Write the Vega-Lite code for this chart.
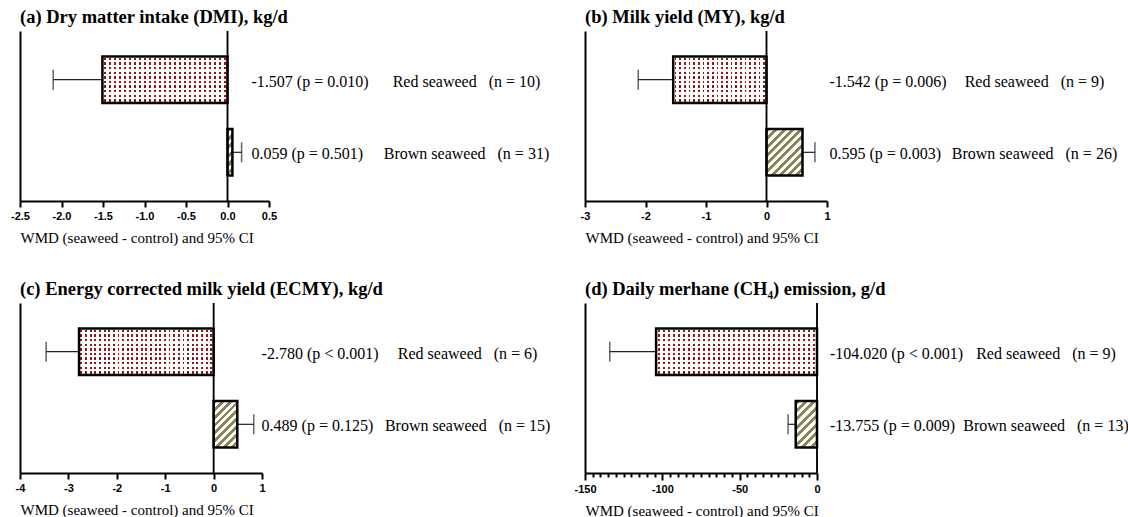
{
  "$schema": "https://vega.github.io/schema/vega-lite/v6.json",
  "background": "white",
  "padding": {"left": 10, "top": 7, "right": 0, "bottom": 0},
  "bounds": "flush",
  "columns": 2,
  "spacing": {"row": 102, "column": 316},
  "data": {"values": [
    {"panel": "a", "seaweed": "Red", "wmd": -1.507, "ci": -2.10, "stat": "-1.507 (p = 0.010)", "label": "Red seaweed\u00a0\u00a0\u00a0(n = 10)"},
    {"panel": "a", "seaweed": "Brown", "wmd": 0.059, "ci": 0.17, "stat": "0.059 (p = 0.501)", "label": "Brown seaweed\u00a0\u00a0\u00a0(n = 31)"},
    {"panel": "b", "seaweed": "Red", "wmd": -1.542, "ci": -2.12, "stat": "-1.542 (p = 0.006)", "label": "Red seaweed\u00a0\u00a0\u00a0(n = 9)"},
    {"panel": "b", "seaweed": "Brown", "wmd": 0.595, "ci": 0.80, "stat": "0.595 (p = 0.003)", "label": "Brown seaweed\u00a0\u00a0\u00a0(n = 26)"},
    {"panel": "c", "seaweed": "Red", "wmd": -2.780, "ci": -3.46, "stat": "-2.780 (p < 0.001)", "label": "Red seaweed\u00a0\u00a0\u00a0(n = 6)"},
    {"panel": "c", "seaweed": "Brown", "wmd": 0.489, "ci": 0.83, "stat": "0.489 (p = 0.125)", "label": "Brown seaweed\u00a0\u00a0\u00a0(n = 15)"},
    {"panel": "d", "seaweed": "Red", "wmd": -104.020, "ci": -134, "stat": "-104.020 (p < 0.001)", "label": "Red seaweed\u00a0\u00a0\u00a0(n = 9)"},
    {"panel": "d", "seaweed": "Brown", "wmd": -13.755, "ci": -18.7, "stat": "-13.755 (p = 0.009)", "label": "Brown seaweed\u00a0\u00a0\u00a0(n = 13)"}
  ]},
  "concat": [
    {
      "width": 249, "height": 170,
      "title": "(a) Dry matter intake (DMI), kg/d",
      "transform": [{"filter": "datum.panel == 'a'"}],
      "layer": [
        {"mark": {"type": "rule", "color": "#222222", "strokeWidth": 1.2},
         "encoding": {
           "x": {"field": "wmd", "type": "quantitative", "title": "WMD (seaweed - control) and 95% CI", "scale": {"domain": [-2.5, 0.5], "nice": false, "zero": false}, "axis": {"values": [-2.5, -2, -1.5, -1, -0.5, 0, 0.5], "format": ".1f", "tickCount": 40}},
           "x2": {"field": "ci"},
           "y": {"field": "seaweed", "type": "nominal", "sort": ["Red", "Brown"], "title": null, "scale": {"paddingInner": 0.36, "paddingOuter": 0.35}}}},
        {"mark": {"type": "tick", "color": "#222222", "thickness": 1.5, "size": 20},
         "encoding": {"x": {"field": "ci", "type": "quantitative", "title": "WMD (seaweed - control) and 95% CI"}, "y": {"field": "seaweed", "type": "nominal", "sort": ["Red", "Brown"], "title": null}}},
        {"transform": [{"filter": "datum.seaweed == 'Red'"}],
         "mark": {"type": "bar", "strokeWidth": 0, "fill": {"gradient": "linear", "x1": 0, "y1": 0, "x2": 0, "y2": 1, "stops": [
           {"offset": 0, "color": "white"},
           {"offset": 0.025, "color": "white"}, {"offset": 0.025, "color": "#8b1a1a"}, {"offset": 0.075, "color": "#8b1a1a"}, {"offset": 0.075, "color": "white"},
           {"offset": 0.125, "color": "white"}, {"offset": 0.125, "color": "#8b1a1a"}, {"offset": 0.175, "color": "#8b1a1a"}, {"offset": 0.175, "color": "white"},
           {"offset": 0.225, "color": "white"}, {"offset": 0.225, "color": "#8b1a1a"}, {"offset": 0.275, "color": "#8b1a1a"}, {"offset": 0.275, "color": "white"},
           {"offset": 0.325, "color": "white"}, {"offset": 0.325, "color": "#8b1a1a"}, {"offset": 0.375, "color": "#8b1a1a"}, {"offset": 0.375, "color": "white"},
           {"offset": 0.425, "color": "white"}, {"offset": 0.425, "color": "#8b1a1a"}, {"offset": 0.475, "color": "#8b1a1a"}, {"offset": 0.475, "color": "white"},
           {"offset": 0.525, "color": "white"}, {"offset": 0.525, "color": "#8b1a1a"}, {"offset": 0.575, "color": "#8b1a1a"}, {"offset": 0.575, "color": "white"},
           {"offset": 0.625, "color": "white"}, {"offset": 0.625, "color": "#8b1a1a"}, {"offset": 0.675, "color": "#8b1a1a"}, {"offset": 0.675, "color": "white"},
           {"offset": 0.725, "color": "white"}, {"offset": 0.725, "color": "#8b1a1a"}, {"offset": 0.775, "color": "#8b1a1a"}, {"offset": 0.775, "color": "white"},
           {"offset": 0.825, "color": "white"}, {"offset": 0.825, "color": "#8b1a1a"}, {"offset": 0.875, "color": "#8b1a1a"}, {"offset": 0.875, "color": "white"},
           {"offset": 0.925, "color": "white"}, {"offset": 0.925, "color": "#8b1a1a"}, {"offset": 0.975, "color": "#8b1a1a"}, {"offset": 0.975, "color": "white"},
           {"offset": 1, "color": "white"}]}},
         "encoding": {"x": {"field": "wmd", "type": "quantitative", "title": "WMD (seaweed - control) and 95% CI"}, "x2": {"datum": 0}, "y": {"field": "seaweed", "type": "nominal", "sort": ["Red", "Brown"], "title": null}}},
        {"transform": [{"filter": "datum.seaweed == 'Red'"}],
         "mark": {"type": "bar", "stroke": "black", "strokeWidth": 2.5, "fill": {"gradient": "linear", "x1": 0, "y1": 0, "x2": 1, "y2": 0, "stops": [
           {"offset": 0, "color": "white"},
           {"offset": 0.012, "color": "white"}, {"offset": 0.012, "color": "transparent"}, {"offset": 0.028, "color": "transparent"}, {"offset": 0.028, "color": "white"},
           {"offset": 0.052, "color": "white"}, {"offset": 0.052, "color": "transparent"}, {"offset": 0.068, "color": "transparent"}, {"offset": 0.068, "color": "white"},
           {"offset": 0.092, "color": "white"}, {"offset": 0.092, "color": "transparent"}, {"offset": 0.108, "color": "transparent"}, {"offset": 0.108, "color": "white"},
           {"offset": 0.132, "color": "white"}, {"offset": 0.132, "color": "transparent"}, {"offset": 0.148, "color": "transparent"}, {"offset": 0.148, "color": "white"},
           {"offset": 0.172, "color": "white"}, {"offset": 0.172, "color": "transparent"}, {"offset": 0.188, "color": "transparent"}, {"offset": 0.188, "color": "white"},
           {"offset": 0.212, "color": "white"}, {"offset": 0.212, "color": "transparent"}, {"offset": 0.228, "color": "transparent"}, {"offset": 0.228, "color": "white"},
           {"offset": 0.252, "color": "white"}, {"offset": 0.252, "color": "transparent"}, {"offset": 0.268, "color": "transparent"}, {"offset": 0.268, "color": "white"},
           {"offset": 0.292, "color": "white"}, {"offset": 0.292, "color": "transparent"}, {"offset": 0.308, "color": "transparent"}, {"offset": 0.308, "color": "white"},
           {"offset": 0.332, "color": "white"}, {"offset": 0.332, "color": "transparent"}, {"offset": 0.348, "color": "transparent"}, {"offset": 0.348, "color": "white"},
           {"offset": 0.372, "color": "white"}, {"offset": 0.372, "color": "transparent"}, {"offset": 0.388, "color": "transparent"}, {"offset": 0.388, "color": "white"},
           {"offset": 0.412, "color": "white"}, {"offset": 0.412, "color": "transparent"}, {"offset": 0.428, "color": "transparent"}, {"offset": 0.428, "color": "white"},
           {"offset": 0.452, "color": "white"}, {"offset": 0.452, "color": "transparent"}, {"offset": 0.468, "color": "transparent"}, {"offset": 0.468, "color": "white"},
           {"offset": 0.492, "color": "white"}, {"offset": 0.492, "color": "transparent"}, {"offset": 0.508, "color": "transparent"}, {"offset": 0.508, "color": "white"},
           {"offset": 0.532, "color": "white"}, {"offset": 0.532, "color": "transparent"}, {"offset": 0.548, "color": "transparent"}, {"offset": 0.548, "color": "white"},
           {"offset": 0.572, "color": "white"}, {"offset": 0.572, "color": "transparent"}, {"offset": 0.588, "color": "transparent"}, {"offset": 0.588, "color": "white"},
           {"offset": 0.612, "color": "white"}, {"offset": 0.612, "color": "transparent"}, {"offset": 0.628, "color": "transparent"}, {"offset": 0.628, "color": "white"},
           {"offset": 0.652, "color": "white"}, {"offset": 0.652, "color": "transparent"}, {"offset": 0.668, "color": "transparent"}, {"offset": 0.668, "color": "white"},
           {"offset": 0.692, "color": "white"}, {"offset": 0.692, "color": "transparent"}, {"offset": 0.708, "color": "transparent"}, {"offset": 0.708, "color": "white"},
           {"offset": 0.732, "color": "white"}, {"offset": 0.732, "color": "transparent"}, {"offset": 0.748, "color": "transparent"}, {"offset": 0.748, "color": "white"},
           {"offset": 0.772, "color": "white"}, {"offset": 0.772, "color": "transparent"}, {"offset": 0.788, "color": "transparent"}, {"offset": 0.788, "color": "white"},
           {"offset": 0.812, "color": "white"}, {"offset": 0.812, "color": "transparent"}, {"offset": 0.828, "color": "transparent"}, {"offset": 0.828, "color": "white"},
           {"offset": 0.852, "color": "white"}, {"offset": 0.852, "color": "transparent"}, {"offset": 0.868, "color": "transparent"}, {"offset": 0.868, "color": "white"},
           {"offset": 0.892, "color": "white"}, {"offset": 0.892, "color": "transparent"}, {"offset": 0.908, "color": "transparent"}, {"offset": 0.908, "color": "white"},
           {"offset": 0.932, "color": "white"}, {"offset": 0.932, "color": "transparent"}, {"offset": 0.948, "color": "transparent"}, {"offset": 0.948, "color": "white"},
           {"offset": 0.972, "color": "white"}, {"offset": 0.972, "color": "transparent"}, {"offset": 0.988, "color": "transparent"}, {"offset": 0.988, "color": "white"},
           {"offset": 1, "color": "white"}]}},
         "encoding": {"x": {"field": "wmd", "type": "quantitative", "title": "WMD (seaweed - control) and 95% CI"}, "x2": {"datum": 0}, "y": {"field": "seaweed", "type": "nominal", "sort": ["Red", "Brown"], "title": null}}},
        {"transform": [{"filter": "datum.seaweed == 'Brown'"}],
         "mark": {"type": "bar", "stroke": "black", "strokeWidth": 2.5, "fill": {"gradient": "linear", "x1": 0, "y1": 0, "x2": 0.115, "y2": 1.093, "stops": [
           {"offset": 0, "color": "#8a8456"}, {"offset": 0.0833, "color": "#8a8456"}, {"offset": 0.0833, "color": "white"}, {"offset": 0.1667, "color": "white"},
           {"offset": 0.1667, "color": "#8a8456"}, {"offset": 0.25, "color": "#8a8456"}, {"offset": 0.25, "color": "white"}, {"offset": 0.3333, "color": "white"},
           {"offset": 0.3333, "color": "#8a8456"}, {"offset": 0.4167, "color": "#8a8456"}, {"offset": 0.4167, "color": "white"}, {"offset": 0.5, "color": "white"},
           {"offset": 0.5, "color": "#8a8456"}, {"offset": 0.5833, "color": "#8a8456"}, {"offset": 0.5833, "color": "white"}, {"offset": 0.6667, "color": "white"},
           {"offset": 0.6667, "color": "#8a8456"}, {"offset": 0.75, "color": "#8a8456"}, {"offset": 0.75, "color": "white"}, {"offset": 0.8333, "color": "white"},
           {"offset": 0.8333, "color": "#8a8456"}, {"offset": 0.9167, "color": "#8a8456"}, {"offset": 0.9167, "color": "white"}, {"offset": 1, "color": "white"}]}},
         "encoding": {"x": {"field": "wmd", "type": "quantitative", "title": "WMD (seaweed - control) and 95% CI"}, "x2": {"datum": 0}, "y": {"field": "seaweed", "type": "nominal", "sort": ["Red", "Brown"], "title": null}}},
        {"mark": {"type": "rule", "color": "black", "strokeWidth": 1.5}, "encoding": {"x": {"datum": 0}}},
        {"mark": {"type": "text", "align": "left", "dx": 24, "dy": 2},
         "encoding": {"x": {"datum": 0}, "y": {"field": "seaweed", "type": "nominal", "sort": ["Red", "Brown"], "title": null}, "text": {"field": "stat"}}},
        {"mark": {"type": "text", "align": "center", "dx": 239, "dy": 2},
         "encoding": {"x": {"datum": 0}, "y": {"field": "seaweed", "type": "nominal", "sort": ["Red", "Brown"], "title": null}, "text": {"field": "label"}}}
      ]
    },
    {
      "width": 242, "height": 170,
      "title": "(b) Milk yield (MY), kg/d",
      "transform": [{"filter": "datum.panel == 'b'"}],
      "layer": [
        {"mark": {"type": "rule", "color": "#222222", "strokeWidth": 1.2},
         "encoding": {
           "x": {"field": "wmd", "type": "quantitative", "title": "WMD (seaweed - control) and 95% CI", "scale": {"domain": [-3, 1], "nice": false, "zero": false}, "axis": {"values": [-3, -2, -1, 0, 1], "format": "d", "tickCount": 40}},
           "x2": {"field": "ci"},
           "y": {"field": "seaweed", "type": "nominal", "sort": ["Red", "Brown"], "title": null, "scale": {"paddingInner": 0.36, "paddingOuter": 0.35}}}},
        {"mark": {"type": "tick", "color": "#222222", "thickness": 1.5, "size": 20},
         "encoding": {"x": {"field": "ci", "type": "quantitative", "title": "WMD (seaweed - control) and 95% CI"}, "y": {"field": "seaweed", "type": "nominal", "sort": ["Red", "Brown"], "title": null}}},
        {"transform": [{"filter": "datum.seaweed == 'Red'"}],
         "mark": {"type": "bar", "strokeWidth": 0, "fill": {"gradient": "linear", "x1": 0, "y1": 0, "x2": 0, "y2": 1, "stops": [
           {"offset": 0, "color": "white"},
           {"offset": 0.025, "color": "white"}, {"offset": 0.025, "color": "#8b1a1a"}, {"offset": 0.075, "color": "#8b1a1a"}, {"offset": 0.075, "color": "white"},
           {"offset": 0.125, "color": "white"}, {"offset": 0.125, "color": "#8b1a1a"}, {"offset": 0.175, "color": "#8b1a1a"}, {"offset": 0.175, "color": "white"},
           {"offset": 0.225, "color": "white"}, {"offset": 0.225, "color": "#8b1a1a"}, {"offset": 0.275, "color": "#8b1a1a"}, {"offset": 0.275, "color": "white"},
           {"offset": 0.325, "color": "white"}, {"offset": 0.325, "color": "#8b1a1a"}, {"offset": 0.375, "color": "#8b1a1a"}, {"offset": 0.375, "color": "white"},
           {"offset": 0.425, "color": "white"}, {"offset": 0.425, "color": "#8b1a1a"}, {"offset": 0.475, "color": "#8b1a1a"}, {"offset": 0.475, "color": "white"},
           {"offset": 0.525, "color": "white"}, {"offset": 0.525, "color": "#8b1a1a"}, {"offset": 0.575, "color": "#8b1a1a"}, {"offset": 0.575, "color": "white"},
           {"offset": 0.625, "color": "white"}, {"offset": 0.625, "color": "#8b1a1a"}, {"offset": 0.675, "color": "#8b1a1a"}, {"offset": 0.675, "color": "white"},
           {"offset": 0.725, "color": "white"}, {"offset": 0.725, "color": "#8b1a1a"}, {"offset": 0.775, "color": "#8b1a1a"}, {"offset": 0.775, "color": "white"},
           {"offset": 0.825, "color": "white"}, {"offset": 0.825, "color": "#8b1a1a"}, {"offset": 0.875, "color": "#8b1a1a"}, {"offset": 0.875, "color": "white"},
           {"offset": 0.925, "color": "white"}, {"offset": 0.925, "color": "#8b1a1a"}, {"offset": 0.975, "color": "#8b1a1a"}, {"offset": 0.975, "color": "white"},
           {"offset": 1, "color": "white"}]}},
         "encoding": {"x": {"field": "wmd", "type": "quantitative", "title": "WMD (seaweed - control) and 95% CI"}, "x2": {"datum": 0}, "y": {"field": "seaweed", "type": "nominal", "sort": ["Red", "Brown"], "title": null}}},
        {"transform": [{"filter": "datum.seaweed == 'Red'"}],
         "mark": {"type": "bar", "stroke": "black", "strokeWidth": 2.5, "fill": {"gradient": "linear", "x1": 0, "y1": 0, "x2": 1, "y2": 0, "stops": [
           {"offset": 0, "color": "white"},
           {"offset": 0.015, "color": "white"}, {"offset": 0.015, "color": "transparent"}, {"offset": 0.035, "color": "transparent"}, {"offset": 0.035, "color": "white"},
           {"offset": 0.065, "color": "white"}, {"offset": 0.065, "color": "transparent"}, {"offset": 0.085, "color": "transparent"}, {"offset": 0.085, "color": "white"},
           {"offset": 0.115, "color": "white"}, {"offset": 0.115, "color": "transparent"}, {"offset": 0.135, "color": "transparent"}, {"offset": 0.135, "color": "white"},
           {"offset": 0.165, "color": "white"}, {"offset": 0.165, "color": "transparent"}, {"offset": 0.185, "color": "transparent"}, {"offset": 0.185, "color": "white"},
           {"offset": 0.215, "color": "white"}, {"offset": 0.215, "color": "transparent"}, {"offset": 0.235, "color": "transparent"}, {"offset": 0.235, "color": "white"},
           {"offset": 0.265, "color": "white"}, {"offset": 0.265, "color": "transparent"}, {"offset": 0.285, "color": "transparent"}, {"offset": 0.285, "color": "white"},
           {"offset": 0.315, "color": "white"}, {"offset": 0.315, "color": "transparent"}, {"offset": 0.335, "color": "transparent"}, {"offset": 0.335, "color": "white"},
           {"offset": 0.365, "color": "white"}, {"offset": 0.365, "color": "transparent"}, {"offset": 0.385, "color": "transparent"}, {"offset": 0.385, "color": "white"},
           {"offset": 0.415, "color": "white"}, {"offset": 0.415, "color": "transparent"}, {"offset": 0.435, "color": "transparent"}, {"offset": 0.435, "color": "white"},
           {"offset": 0.465, "color": "white"}, {"offset": 0.465, "color": "transparent"}, {"offset": 0.485, "color": "transparent"}, {"offset": 0.485, "color": "white"},
           {"offset": 0.515, "color": "white"}, {"offset": 0.515, "color": "transparent"}, {"offset": 0.535, "color": "transparent"}, {"offset": 0.535, "color": "white"},
           {"offset": 0.565, "color": "white"}, {"offset": 0.565, "color": "transparent"}, {"offset": 0.585, "color": "transparent"}, {"offset": 0.585, "color": "white"},
           {"offset": 0.615, "color": "white"}, {"offset": 0.615, "color": "transparent"}, {"offset": 0.635, "color": "transparent"}, {"offset": 0.635, "color": "white"},
           {"offset": 0.665, "color": "white"}, {"offset": 0.665, "color": "transparent"}, {"offset": 0.685, "color": "transparent"}, {"offset": 0.685, "color": "white"},
           {"offset": 0.715, "color": "white"}, {"offset": 0.715, "color": "transparent"}, {"offset": 0.735, "color": "transparent"}, {"offset": 0.735, "color": "white"},
           {"offset": 0.765, "color": "white"}, {"offset": 0.765, "color": "transparent"}, {"offset": 0.785, "color": "transparent"}, {"offset": 0.785, "color": "white"},
           {"offset": 0.815, "color": "white"}, {"offset": 0.815, "color": "transparent"}, {"offset": 0.835, "color": "transparent"}, {"offset": 0.835, "color": "white"},
           {"offset": 0.865, "color": "white"}, {"offset": 0.865, "color": "transparent"}, {"offset": 0.885, "color": "transparent"}, {"offset": 0.885, "color": "white"},
           {"offset": 0.915, "color": "white"}, {"offset": 0.915, "color": "transparent"}, {"offset": 0.935, "color": "transparent"}, {"offset": 0.935, "color": "white"},
           {"offset": 0.965, "color": "white"}, {"offset": 0.965, "color": "transparent"}, {"offset": 0.985, "color": "transparent"}, {"offset": 0.985, "color": "white"},
           {"offset": 1, "color": "white"}]}},
         "encoding": {"x": {"field": "wmd", "type": "quantitative", "title": "WMD (seaweed - control) and 95% CI"}, "x2": {"datum": 0}, "y": {"field": "seaweed", "type": "nominal", "sort": ["Red", "Brown"], "title": null}}},
        {"transform": [{"filter": "datum.seaweed == 'Brown'"}],
         "mark": {"type": "bar", "stroke": "black", "strokeWidth": 2.5, "fill": {"gradient": "linear", "x1": 0, "y1": 0, "x2": 0.859, "y2": 1.109, "stops": [
           {"offset": 0, "color": "#8a8456"}, {"offset": 0.05, "color": "#8a8456"}, {"offset": 0.05, "color": "white"}, {"offset": 0.1, "color": "white"},
           {"offset": 0.1, "color": "#8a8456"}, {"offset": 0.15, "color": "#8a8456"}, {"offset": 0.15, "color": "white"}, {"offset": 0.2, "color": "white"},
           {"offset": 0.2, "color": "#8a8456"}, {"offset": 0.25, "color": "#8a8456"}, {"offset": 0.25, "color": "white"}, {"offset": 0.3, "color": "white"},
           {"offset": 0.3, "color": "#8a8456"}, {"offset": 0.35, "color": "#8a8456"}, {"offset": 0.35, "color": "white"}, {"offset": 0.4, "color": "white"},
           {"offset": 0.4, "color": "#8a8456"}, {"offset": 0.45, "color": "#8a8456"}, {"offset": 0.45, "color": "white"}, {"offset": 0.5, "color": "white"},
           {"offset": 0.5, "color": "#8a8456"}, {"offset": 0.55, "color": "#8a8456"}, {"offset": 0.55, "color": "white"}, {"offset": 0.6, "color": "white"},
           {"offset": 0.6, "color": "#8a8456"}, {"offset": 0.65, "color": "#8a8456"}, {"offset": 0.65, "color": "white"}, {"offset": 0.7, "color": "white"},
           {"offset": 0.7, "color": "#8a8456"}, {"offset": 0.75, "color": "#8a8456"}, {"offset": 0.75, "color": "white"}, {"offset": 0.8, "color": "white"},
           {"offset": 0.8, "color": "#8a8456"}, {"offset": 0.85, "color": "#8a8456"}, {"offset": 0.85, "color": "white"}, {"offset": 0.9, "color": "white"},
           {"offset": 0.9, "color": "#8a8456"}, {"offset": 0.95, "color": "#8a8456"}, {"offset": 0.95, "color": "white"}, {"offset": 1, "color": "white"}]}},
         "encoding": {"x": {"field": "wmd", "type": "quantitative", "title": "WMD (seaweed - control) and 95% CI"}, "x2": {"datum": 0}, "y": {"field": "seaweed", "type": "nominal", "sort": ["Red", "Brown"], "title": null}}},
        {"mark": {"type": "rule", "color": "black", "strokeWidth": 1.5}, "encoding": {"x": {"datum": 0}}},
        {"mark": {"type": "text", "align": "left", "dx": 63, "dy": 2},
         "encoding": {"x": {"datum": 0}, "y": {"field": "seaweed", "type": "nominal", "sort": ["Red", "Brown"], "title": null}, "text": {"field": "stat"}}},
        {"mark": {"type": "text", "align": "center", "dx": 268, "dy": 2},
         "encoding": {"x": {"datum": 0}, "y": {"field": "seaweed", "type": "nominal", "sort": ["Red", "Brown"], "title": null}, "text": {"field": "label"}}}
      ]
    },
    {
      "width": 242, "height": 170,
      "title": "(c) Energy corrected milk yield (ECMY), kg/d",
      "transform": [{"filter": "datum.panel == 'c'"}],
      "layer": [
        {"mark": {"type": "rule", "color": "#222222", "strokeWidth": 1.2},
         "encoding": {
           "x": {"field": "wmd", "type": "quantitative", "title": "WMD (seaweed - control) and 95% CI", "scale": {"domain": [-4, 1], "nice": false, "zero": false}, "axis": {"values": [-4, -3, -2, -1, 0, 1], "format": "d", "tickCount": 40}},
           "x2": {"field": "ci"},
           "y": {"field": "seaweed", "type": "nominal", "sort": ["Red", "Brown"], "title": null, "scale": {"paddingInner": 0.36, "paddingOuter": 0.35}}}},
        {"mark": {"type": "tick", "color": "#222222", "thickness": 1.5, "size": 20},
         "encoding": {"x": {"field": "ci", "type": "quantitative", "title": "WMD (seaweed - control) and 95% CI"}, "y": {"field": "seaweed", "type": "nominal", "sort": ["Red", "Brown"], "title": null}}},
        {"transform": [{"filter": "datum.seaweed == 'Red'"}],
         "mark": {"type": "bar", "strokeWidth": 0, "fill": {"gradient": "linear", "x1": 0, "y1": 0, "x2": 0, "y2": 1, "stops": [
           {"offset": 0, "color": "white"},
           {"offset": 0.025, "color": "white"}, {"offset": 0.025, "color": "#8b1a1a"}, {"offset": 0.075, "color": "#8b1a1a"}, {"offset": 0.075, "color": "white"},
           {"offset": 0.125, "color": "white"}, {"offset": 0.125, "color": "#8b1a1a"}, {"offset": 0.175, "color": "#8b1a1a"}, {"offset": 0.175, "color": "white"},
           {"offset": 0.225, "color": "white"}, {"offset": 0.225, "color": "#8b1a1a"}, {"offset": 0.275, "color": "#8b1a1a"}, {"offset": 0.275, "color": "white"},
           {"offset": 0.325, "color": "white"}, {"offset": 0.325, "color": "#8b1a1a"}, {"offset": 0.375, "color": "#8b1a1a"}, {"offset": 0.375, "color": "white"},
           {"offset": 0.425, "color": "white"}, {"offset": 0.425, "color": "#8b1a1a"}, {"offset": 0.475, "color": "#8b1a1a"}, {"offset": 0.475, "color": "white"},
           {"offset": 0.525, "color": "white"}, {"offset": 0.525, "color": "#8b1a1a"}, {"offset": 0.575, "color": "#8b1a1a"}, {"offset": 0.575, "color": "white"},
           {"offset": 0.625, "color": "white"}, {"offset": 0.625, "color": "#8b1a1a"}, {"offset": 0.675, "color": "#8b1a1a"}, {"offset": 0.675, "color": "white"},
           {"offset": 0.725, "color": "white"}, {"offset": 0.725, "color": "#8b1a1a"}, {"offset": 0.775, "color": "#8b1a1a"}, {"offset": 0.775, "color": "white"},
           {"offset": 0.825, "color": "white"}, {"offset": 0.825, "color": "#8b1a1a"}, {"offset": 0.875, "color": "#8b1a1a"}, {"offset": 0.875, "color": "white"},
           {"offset": 0.925, "color": "white"}, {"offset": 0.925, "color": "#8b1a1a"}, {"offset": 0.975, "color": "#8b1a1a"}, {"offset": 0.975, "color": "white"},
           {"offset": 1, "color": "white"}]}},
         "encoding": {"x": {"field": "wmd", "type": "quantitative", "title": "WMD (seaweed - control) and 95% CI"}, "x2": {"datum": 0}, "y": {"field": "seaweed", "type": "nominal", "sort": ["Red", "Brown"], "title": null}}},
        {"transform": [{"filter": "datum.seaweed == 'Red'"}],
         "mark": {"type": "bar", "stroke": "black", "strokeWidth": 2.5, "fill": {"gradient": "linear", "x1": 0, "y1": 0, "x2": 1, "y2": 0, "stops": [
           {"offset": 0, "color": "white"},
           {"offset": 0.0103, "color": "white"}, {"offset": 0.0103, "color": "transparent"}, {"offset": 0.0241, "color": "transparent"}, {"offset": 0.0241, "color": "white"},
           {"offset": 0.0448, "color": "white"}, {"offset": 0.0448, "color": "transparent"}, {"offset": 0.0586, "color": "transparent"}, {"offset": 0.0586, "color": "white"},
           {"offset": 0.0793, "color": "white"}, {"offset": 0.0793, "color": "transparent"}, {"offset": 0.0931, "color": "transparent"}, {"offset": 0.0931, "color": "white"},
           {"offset": 0.1138, "color": "white"}, {"offset": 0.1138, "color": "transparent"}, {"offset": 0.1276, "color": "transparent"}, {"offset": 0.1276, "color": "white"},
           {"offset": 0.1483, "color": "white"}, {"offset": 0.1483, "color": "transparent"}, {"offset": 0.1621, "color": "transparent"}, {"offset": 0.1621, "color": "white"},
           {"offset": 0.1828, "color": "white"}, {"offset": 0.1828, "color": "transparent"}, {"offset": 0.1966, "color": "transparent"}, {"offset": 0.1966, "color": "white"},
           {"offset": 0.2172, "color": "white"}, {"offset": 0.2172, "color": "transparent"}, {"offset": 0.231, "color": "transparent"}, {"offset": 0.231, "color": "white"},
           {"offset": 0.2517, "color": "white"}, {"offset": 0.2517, "color": "transparent"}, {"offset": 0.2655, "color": "transparent"}, {"offset": 0.2655, "color": "white"},
           {"offset": 0.2862, "color": "white"}, {"offset": 0.2862, "color": "transparent"}, {"offset": 0.3, "color": "transparent"}, {"offset": 0.3, "color": "white"},
           {"offset": 0.3207, "color": "white"}, {"offset": 0.3207, "color": "transparent"}, {"offset": 0.3345, "color": "transparent"}, {"offset": 0.3345, "color": "white"},
           {"offset": 0.3552, "color": "white"}, {"offset": 0.3552, "color": "transparent"}, {"offset": 0.369, "color": "transparent"}, {"offset": 0.369, "color": "white"},
           {"offset": 0.3897, "color": "white"}, {"offset": 0.3897, "color": "transparent"}, {"offset": 0.4034, "color": "transparent"}, {"offset": 0.4034, "color": "white"},
           {"offset": 0.4241, "color": "white"}, {"offset": 0.4241, "color": "transparent"}, {"offset": 0.4379, "color": "transparent"}, {"offset": 0.4379, "color": "white"},
           {"offset": 0.4586, "color": "white"}, {"offset": 0.4586, "color": "transparent"}, {"offset": 0.4724, "color": "transparent"}, {"offset": 0.4724, "color": "white"},
           {"offset": 0.4931, "color": "white"}, {"offset": 0.4931, "color": "transparent"}, {"offset": 0.5069, "color": "transparent"}, {"offset": 0.5069, "color": "white"},
           {"offset": 0.5276, "color": "white"}, {"offset": 0.5276, "color": "transparent"}, {"offset": 0.5414, "color": "transparent"}, {"offset": 0.5414, "color": "white"},
           {"offset": 0.5621, "color": "white"}, {"offset": 0.5621, "color": "transparent"}, {"offset": 0.5759, "color": "transparent"}, {"offset": 0.5759, "color": "white"},
           {"offset": 0.5966, "color": "white"}, {"offset": 0.5966, "color": "transparent"}, {"offset": 0.6103, "color": "transparent"}, {"offset": 0.6103, "color": "white"},
           {"offset": 0.631, "color": "white"}, {"offset": 0.631, "color": "transparent"}, {"offset": 0.6448, "color": "transparent"}, {"offset": 0.6448, "color": "white"},
           {"offset": 0.6655, "color": "white"}, {"offset": 0.6655, "color": "transparent"}, {"offset": 0.6793, "color": "transparent"}, {"offset": 0.6793, "color": "white"},
           {"offset": 0.7, "color": "white"}, {"offset": 0.7, "color": "transparent"}, {"offset": 0.7138, "color": "transparent"}, {"offset": 0.7138, "color": "white"},
           {"offset": 0.7345, "color": "white"}, {"offset": 0.7345, "color": "transparent"}, {"offset": 0.7483, "color": "transparent"}, {"offset": 0.7483, "color": "white"},
           {"offset": 0.769, "color": "white"}, {"offset": 0.769, "color": "transparent"}, {"offset": 0.7828, "color": "transparent"}, {"offset": 0.7828, "color": "white"},
           {"offset": 0.8034, "color": "white"}, {"offset": 0.8034, "color": "transparent"}, {"offset": 0.8172, "color": "transparent"}, {"offset": 0.8172, "color": "white"},
           {"offset": 0.8379, "color": "white"}, {"offset": 0.8379, "color": "transparent"}, {"offset": 0.8517, "color": "transparent"}, {"offset": 0.8517, "color": "white"},
           {"offset": 0.8724, "color": "white"}, {"offset": 0.8724, "color": "transparent"}, {"offset": 0.8862, "color": "transparent"}, {"offset": 0.8862, "color": "white"},
           {"offset": 0.9069, "color": "white"}, {"offset": 0.9069, "color": "transparent"}, {"offset": 0.9207, "color": "transparent"}, {"offset": 0.9207, "color": "white"},
           {"offset": 0.9414, "color": "white"}, {"offset": 0.9414, "color": "transparent"}, {"offset": 0.9552, "color": "transparent"}, {"offset": 0.9552, "color": "white"},
           {"offset": 0.9759, "color": "white"}, {"offset": 0.9759, "color": "transparent"}, {"offset": 0.9897, "color": "transparent"}, {"offset": 0.9897, "color": "white"},
           {"offset": 1, "color": "white"}]}},
         "encoding": {"x": {"field": "wmd", "type": "quantitative", "title": "WMD (seaweed - control) and 95% CI"}, "x2": {"datum": 0}, "y": {"field": "seaweed", "type": "nominal", "sort": ["Red", "Brown"], "title": null}}},
        {"transform": [{"filter": "datum.seaweed == 'Brown'"}],
         "mark": {"type": "bar", "stroke": "black", "strokeWidth": 2.5, "fill": {"gradient": "linear", "x1": 0, "y1": 0, "x2": 0.611, "y2": 1.198, "stops": [
           {"offset": 0, "color": "#8a8456"}, {"offset": 0.0556, "color": "#8a8456"}, {"offset": 0.0556, "color": "white"}, {"offset": 0.1111, "color": "white"},
           {"offset": 0.1111, "color": "#8a8456"}, {"offset": 0.1667, "color": "#8a8456"}, {"offset": 0.1667, "color": "white"}, {"offset": 0.2222, "color": "white"},
           {"offset": 0.2222, "color": "#8a8456"}, {"offset": 0.2778, "color": "#8a8456"}, {"offset": 0.2778, "color": "white"}, {"offset": 0.3333, "color": "white"},
           {"offset": 0.3333, "color": "#8a8456"}, {"offset": 0.3889, "color": "#8a8456"}, {"offset": 0.3889, "color": "white"}, {"offset": 0.4444, "color": "white"},
           {"offset": 0.4444, "color": "#8a8456"}, {"offset": 0.5, "color": "#8a8456"}, {"offset": 0.5, "color": "white"}, {"offset": 0.5556, "color": "white"},
           {"offset": 0.5556, "color": "#8a8456"}, {"offset": 0.6111, "color": "#8a8456"}, {"offset": 0.6111, "color": "white"}, {"offset": 0.6667, "color": "white"},
           {"offset": 0.6667, "color": "#8a8456"}, {"offset": 0.7222, "color": "#8a8456"}, {"offset": 0.7222, "color": "white"}, {"offset": 0.7778, "color": "white"},
           {"offset": 0.7778, "color": "#8a8456"}, {"offset": 0.8333, "color": "#8a8456"}, {"offset": 0.8333, "color": "white"}, {"offset": 0.8889, "color": "white"},
           {"offset": 0.8889, "color": "#8a8456"}, {"offset": 0.9444, "color": "#8a8456"}, {"offset": 0.9444, "color": "white"}, {"offset": 1, "color": "white"}]}},
         "encoding": {"x": {"field": "wmd", "type": "quantitative", "title": "WMD (seaweed - control) and 95% CI"}, "x2": {"datum": 0}, "y": {"field": "seaweed", "type": "nominal", "sort": ["Red", "Brown"], "title": null}}},
        {"mark": {"type": "rule", "color": "black", "strokeWidth": 1.5}, "encoding": {"x": {"datum": 0}}},
        {"mark": {"type": "text", "align": "left", "dx": 48, "dy": 2},
         "encoding": {"x": {"datum": 0}, "y": {"field": "seaweed", "type": "nominal", "sort": ["Red", "Brown"], "title": null}, "text": {"field": "stat"}}},
        {"mark": {"type": "text", "align": "center", "dx": 254, "dy": 2},
         "encoding": {"x": {"datum": 0}, "y": {"field": "seaweed", "type": "nominal", "sort": ["Red", "Brown"], "title": null}, "text": {"field": "label"}}}
      ]
    },
    {
      "width": 232, "height": 170,
      "title": "(d) Daily merhane (CH\u2084) emission, g/d",
      "transform": [{"filter": "datum.panel == 'd'"}],
      "layer": [
        {"mark": {"type": "rule", "color": "#222222", "strokeWidth": 1.2},
         "encoding": {
           "x": {"field": "wmd", "type": "quantitative", "title": "WMD (seaweed - control) and 95% CI", "scale": {"domain": [-150, 0], "nice": false, "zero": false},
                 "axis": {"values": [-150, -145, -140, -135, -130, -125, -120, -115, -110, -105, -100, -95, -90, -85, -80, -75, -70, -65, -60, -55, -50, -45, -40, -35, -30, -25, -20, -15, -10, -5, 0],
                          "tickCount": 40, "format": "d", "labelExpr": "datum.value % 50 == 0 ? datum.label : ''",
                          "tickSize": {"condition": {"test": "datum.value % 50 == 0", "value": 7}, "value": 4}}},
           "x2": {"field": "ci"},
           "y": {"field": "seaweed", "type": "nominal", "sort": ["Red", "Brown"], "title": null, "scale": {"paddingInner": 0.36, "paddingOuter": 0.35}}}},
        {"mark": {"type": "tick", "color": "#222222", "thickness": 1.5, "size": 20},
         "encoding": {"x": {"field": "ci", "type": "quantitative", "title": "WMD (seaweed - control) and 95% CI"}, "y": {"field": "seaweed", "type": "nominal", "sort": ["Red", "Brown"], "title": null}}},
        {"transform": [{"filter": "datum.seaweed == 'Red'"}],
         "mark": {"type": "bar", "strokeWidth": 0, "fill": {"gradient": "linear", "x1": 0, "y1": 0, "x2": 0, "y2": 1, "stops": [
           {"offset": 0, "color": "white"},
           {"offset": 0.025, "color": "white"}, {"offset": 0.025, "color": "#8b1a1a"}, {"offset": 0.075, "color": "#8b1a1a"}, {"offset": 0.075, "color": "white"},
           {"offset": 0.125, "color": "white"}, {"offset": 0.125, "color": "#8b1a1a"}, {"offset": 0.175, "color": "#8b1a1a"}, {"offset": 0.175, "color": "white"},
           {"offset": 0.225, "color": "white"}, {"offset": 0.225, "color": "#8b1a1a"}, {"offset": 0.275, "color": "#8b1a1a"}, {"offset": 0.275, "color": "white"},
           {"offset": 0.325, "color": "white"}, {"offset": 0.325, "color": "#8b1a1a"}, {"offset": 0.375, "color": "#8b1a1a"}, {"offset": 0.375, "color": "white"},
           {"offset": 0.425, "color": "white"}, {"offset": 0.425, "color": "#8b1a1a"}, {"offset": 0.475, "color": "#8b1a1a"}, {"offset": 0.475, "color": "white"},
           {"offset": 0.525, "color": "white"}, {"offset": 0.525, "color": "#8b1a1a"}, {"offset": 0.575, "color": "#8b1a1a"}, {"offset": 0.575, "color": "white"},
           {"offset": 0.625, "color": "white"}, {"offset": 0.625, "color": "#8b1a1a"}, {"offset": 0.675, "color": "#8b1a1a"}, {"offset": 0.675, "color": "white"},
           {"offset": 0.725, "color": "white"}, {"offset": 0.725, "color": "#8b1a1a"}, {"offset": 0.775, "color": "#8b1a1a"}, {"offset": 0.775, "color": "white"},
           {"offset": 0.825, "color": "white"}, {"offset": 0.825, "color": "#8b1a1a"}, {"offset": 0.875, "color": "#8b1a1a"}, {"offset": 0.875, "color": "white"},
           {"offset": 0.925, "color": "white"}, {"offset": 0.925, "color": "#8b1a1a"}, {"offset": 0.975, "color": "#8b1a1a"}, {"offset": 0.975, "color": "white"},
           {"offset": 1, "color": "white"}]}},
         "encoding": {"x": {"field": "wmd", "type": "quantitative", "title": "WMD (seaweed - control) and 95% CI"}, "x2": {"datum": 0}, "y": {"field": "seaweed", "type": "nominal", "sort": ["Red", "Brown"], "title": null}}},
        {"transform": [{"filter": "datum.seaweed == 'Red'"}],
         "mark": {"type": "bar", "stroke": "black", "strokeWidth": 2.5, "fill": {"gradient": "linear", "x1": 0, "y1": 0, "x2": 1, "y2": 0, "stops": [
           {"offset": 0, "color": "white"},
           {"offset": 0.0094, "color": "white"}, {"offset": 0.0094, "color": "transparent"}, {"offset": 0.0219, "color": "transparent"}, {"offset": 0.0219, "color": "white"},
           {"offset": 0.0406, "color": "white"}, {"offset": 0.0406, "color": "transparent"}, {"offset": 0.0531, "color": "transparent"}, {"offset": 0.0531, "color": "white"},
           {"offset": 0.0719, "color": "white"}, {"offset": 0.0719, "color": "transparent"}, {"offset": 0.0844, "color": "transparent"}, {"offset": 0.0844, "color": "white"},
           {"offset": 0.1031, "color": "white"}, {"offset": 0.1031, "color": "transparent"}, {"offset": 0.1156, "color": "transparent"}, {"offset": 0.1156, "color": "white"},
           {"offset": 0.1344, "color": "white"}, {"offset": 0.1344, "color": "transparent"}, {"offset": 0.1469, "color": "transparent"}, {"offset": 0.1469, "color": "white"},
           {"offset": 0.1656, "color": "white"}, {"offset": 0.1656, "color": "transparent"}, {"offset": 0.1781, "color": "transparent"}, {"offset": 0.1781, "color": "white"},
           {"offset": 0.1969, "color": "white"}, {"offset": 0.1969, "color": "transparent"}, {"offset": 0.2094, "color": "transparent"}, {"offset": 0.2094, "color": "white"},
           {"offset": 0.2281, "color": "white"}, {"offset": 0.2281, "color": "transparent"}, {"offset": 0.2406, "color": "transparent"}, {"offset": 0.2406, "color": "white"},
           {"offset": 0.2594, "color": "white"}, {"offset": 0.2594, "color": "transparent"}, {"offset": 0.2719, "color": "transparent"}, {"offset": 0.2719, "color": "white"},
           {"offset": 0.2906, "color": "white"}, {"offset": 0.2906, "color": "transparent"}, {"offset": 0.3031, "color": "transparent"}, {"offset": 0.3031, "color": "white"},
           {"offset": 0.3219, "color": "white"}, {"offset": 0.3219, "color": "transparent"}, {"offset": 0.3344, "color": "transparent"}, {"offset": 0.3344, "color": "white"},
           {"offset": 0.3531, "color": "white"}, {"offset": 0.3531, "color": "transparent"}, {"offset": 0.3656, "color": "transparent"}, {"offset": 0.3656, "color": "white"},
           {"offset": 0.3844, "color": "white"}, {"offset": 0.3844, "color": "transparent"}, {"offset": 0.3969, "color": "transparent"}, {"offset": 0.3969, "color": "white"},
           {"offset": 0.4156, "color": "white"}, {"offset": 0.4156, "color": "transparent"}, {"offset": 0.4281, "color": "transparent"}, {"offset": 0.4281, "color": "white"},
           {"offset": 0.4469, "color": "white"}, {"offset": 0.4469, "color": "transparent"}, {"offset": 0.4594, "color": "transparent"}, {"offset": 0.4594, "color": "white"},
           {"offset": 0.4781, "color": "white"}, {"offset": 0.4781, "color": "transparent"}, {"offset": 0.4906, "color": "transparent"}, {"offset": 0.4906, "color": "white"},
           {"offset": 0.5094, "color": "white"}, {"offset": 0.5094, "color": "transparent"}, {"offset": 0.5219, "color": "transparent"}, {"offset": 0.5219, "color": "white"},
           {"offset": 0.5406, "color": "white"}, {"offset": 0.5406, "color": "transparent"}, {"offset": 0.5531, "color": "transparent"}, {"offset": 0.5531, "color": "white"},
           {"offset": 0.5719, "color": "white"}, {"offset": 0.5719, "color": "transparent"}, {"offset": 0.5844, "color": "transparent"}, {"offset": 0.5844, "color": "white"},
           {"offset": 0.6031, "color": "white"}, {"offset": 0.6031, "color": "transparent"}, {"offset": 0.6156, "color": "transparent"}, {"offset": 0.6156, "color": "white"},
           {"offset": 0.6344, "color": "white"}, {"offset": 0.6344, "color": "transparent"}, {"offset": 0.6469, "color": "transparent"}, {"offset": 0.6469, "color": "white"},
           {"offset": 0.6656, "color": "white"}, {"offset": 0.6656, "color": "transparent"}, {"offset": 0.6781, "color": "transparent"}, {"offset": 0.6781, "color": "white"},
           {"offset": 0.6969, "color": "white"}, {"offset": 0.6969, "color": "transparent"}, {"offset": 0.7094, "color": "transparent"}, {"offset": 0.7094, "color": "white"},
           {"offset": 0.7281, "color": "white"}, {"offset": 0.7281, "color": "transparent"}, {"offset": 0.7406, "color": "transparent"}, {"offset": 0.7406, "color": "white"},
           {"offset": 0.7594, "color": "white"}, {"offset": 0.7594, "color": "transparent"}, {"offset": 0.7719, "color": "transparent"}, {"offset": 0.7719, "color": "white"},
           {"offset": 0.7906, "color": "white"}, {"offset": 0.7906, "color": "transparent"}, {"offset": 0.8031, "color": "transparent"}, {"offset": 0.8031, "color": "white"},
           {"offset": 0.8219, "color": "white"}, {"offset": 0.8219, "color": "transparent"}, {"offset": 0.8344, "color": "transparent"}, {"offset": 0.8344, "color": "white"},
           {"offset": 0.8531, "color": "white"}, {"offset": 0.8531, "color": "transparent"}, {"offset": 0.8656, "color": "transparent"}, {"offset": 0.8656, "color": "white"},
           {"offset": 0.8844, "color": "white"}, {"offset": 0.8844, "color": "transparent"}, {"offset": 0.8969, "color": "transparent"}, {"offset": 0.8969, "color": "white"},
           {"offset": 0.9156, "color": "white"}, {"offset": 0.9156, "color": "transparent"}, {"offset": 0.9281, "color": "transparent"}, {"offset": 0.9281, "color": "white"},
           {"offset": 0.9469, "color": "white"}, {"offset": 0.9469, "color": "transparent"}, {"offset": 0.9594, "color": "transparent"}, {"offset": 0.9594, "color": "white"},
           {"offset": 0.9781, "color": "white"}, {"offset": 0.9781, "color": "transparent"}, {"offset": 0.9906, "color": "transparent"}, {"offset": 0.9906, "color": "white"},
           {"offset": 1, "color": "white"}]}},
         "encoding": {"x": {"field": "wmd", "type": "quantitative", "title": "WMD (seaweed - control) and 95% CI"}, "x2": {"datum": 0}, "y": {"field": "seaweed", "type": "nominal", "sort": ["Red", "Brown"], "title": null}}},
        {"transform": [{"filter": "datum.seaweed == 'Brown'"}],
         "mark": {"type": "bar", "stroke": "black", "strokeWidth": 2.5, "fill": {"gradient": "linear", "x1": 0, "y1": 0, "x2": 0.552, "y2": 1.205, "stops": [
           {"offset": 0, "color": "#8a8456"}, {"offset": 0.0625, "color": "#8a8456"}, {"offset": 0.0625, "color": "white"}, {"offset": 0.125, "color": "white"},
           {"offset": 0.125, "color": "#8a8456"}, {"offset": 0.1875, "color": "#8a8456"}, {"offset": 0.1875, "color": "white"}, {"offset": 0.25, "color": "white"},
           {"offset": 0.25, "color": "#8a8456"}, {"offset": 0.3125, "color": "#8a8456"}, {"offset": 0.3125, "color": "white"}, {"offset": 0.375, "color": "white"},
           {"offset": 0.375, "color": "#8a8456"}, {"offset": 0.4375, "color": "#8a8456"}, {"offset": 0.4375, "color": "white"}, {"offset": 0.5, "color": "white"},
           {"offset": 0.5, "color": "#8a8456"}, {"offset": 0.5625, "color": "#8a8456"}, {"offset": 0.5625, "color": "white"}, {"offset": 0.625, "color": "white"},
           {"offset": 0.625, "color": "#8a8456"}, {"offset": 0.6875, "color": "#8a8456"}, {"offset": 0.6875, "color": "white"}, {"offset": 0.75, "color": "white"},
           {"offset": 0.75, "color": "#8a8456"}, {"offset": 0.8125, "color": "#8a8456"}, {"offset": 0.8125, "color": "white"}, {"offset": 0.875, "color": "white"},
           {"offset": 0.875, "color": "#8a8456"}, {"offset": 0.9375, "color": "#8a8456"}, {"offset": 0.9375, "color": "white"}, {"offset": 1, "color": "white"}]}},
         "encoding": {"x": {"field": "wmd", "type": "quantitative", "title": "WMD (seaweed - control) and 95% CI"}, "x2": {"datum": 0}, "y": {"field": "seaweed", "type": "nominal", "sort": ["Red", "Brown"], "title": null}}},
        {"mark": {"type": "rule", "color": "black", "strokeWidth": 1.5}, "encoding": {"x": {"datum": 0}}},
        {"mark": {"type": "text", "align": "left", "dx": 13, "dy": 2},
         "encoding": {"x": {"datum": 0}, "y": {"field": "seaweed", "type": "nominal", "sort": ["Red", "Brown"], "title": null}, "text": {"field": "stat"}}},
        {"mark": {"type": "text", "align": "center", "dx": 229, "dy": 2},
         "encoding": {"x": {"datum": 0}, "y": {"field": "seaweed", "type": "nominal", "sort": ["Red", "Brown"], "title": null}, "text": {"field": "label"}}}
      ]
    }
  ],
  "config": {
    "view": {"stroke": null},
    "locale": {"number": {"decimal": ".", "thousands": ",", "grouping": [3], "currency": ["$", ""], "minus": "-"}},
    "title": {"font": "Liberation Serif", "fontSize": 18.5, "fontWeight": "bold", "anchor": "start", "frame": "group", "color": "black", "offset": 4},
    "text": {"font": "Liberation Serif", "fontSize": 16, "color": "black", "baseline": "middle"},
    "axisX": {"domainColor": "black", "domainWidth": 2, "tickColor": "black", "tickWidth": 2, "tickSize": 6, "grid": false,
              "labelFont": "Liberation Sans", "labelFontWeight": "bold", "labelFontSize": 11, "labelColor": "black", "labelPadding": 3,
              "labelFlush": false, "labelOverlap": false,
              "titleFont": "Liberation Serif", "titleFontWeight": "normal", "titleFontSize": 15, "titleColor": "black", "titleAnchor": "start", "titlePadding": 9},
    "axisY": {"domainColor": "black", "domainWidth": 2, "labels": false, "ticks": false, "grid": false}
  }
}
